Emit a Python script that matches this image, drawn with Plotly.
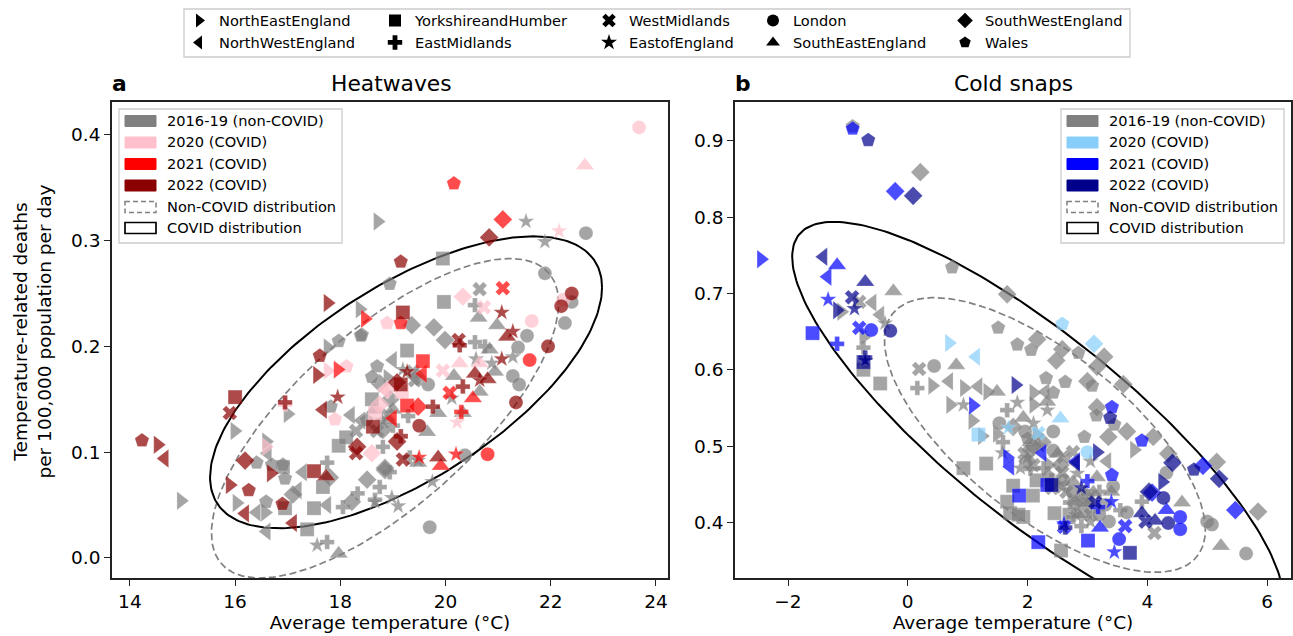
import numpy as np
import plotly.graph_objects as go

W, H = 1293, 636
FONT = "DejaVu Sans"

regions = ["NE", "NW", "YH", "WM", "EM", "EE", "LN", "SE", "SW", "WA"]
symbols = {"NE": "triangle-right", "NW": "triangle-left", "YH": "square", "WM": "x", "EM": "cross",
           "EE": "star", "LN": "circle", "SE": "triangle-up", "SW": "diamond", "WA": "pentagon"}
sizes = {"NE": 16, "NW": 16, "YH": 14, "WM": 13, "EM": 12, "EE": 12.5, "LN": 14, "SE": 16, "SW": 14.5, "WA": 15}

year_labels_heat = ["2016-19 (non-COVID)", "2020 (COVID)", "2021 (COVID)", "2022 (COVID)"]
heat_colours = ["#808080", "#ffc0cb", "#ff0000", "#8b0000"]
cold_colours = ["#808080", "#87cefa", "#0000ff", "#00008b"]

# ---- Heatwaves: (average temperature, deaths per 100,000 per day)
heat_base = {
 "NE": [(18.71,.318),(15.99,.12),(14.97,.054),(16.59,.11),(16.03,.052),(17.0,.136),(17.76,.199),(18.37,.235),(16.57,.043),(18.9,.17)],
 "NW": [(16.6,.025),(17.29,.081),(17.75,.05),(17.19,.064),(16.41,.043),(16.62,.099),(19.0,.187),(18.2,.135),(18.4,.13)],
 "YH": [(17.37,.027),(17.5,.047),(16.95,.047),(17.67,.067),(17.97,.106),(18.11,.114),(18.6,.15),(19.27,.196),(19.97,.242),(19.95,.283),(16.91,.086)],
 "WM": [(20.65,.254),(19.42,.168),(19.38,.176),(18.3,.12),(18.9,.135),(18.7,.12)],
 "EM": [(17.75,.015),(17.75,.09),(18.05,.048),(18.33,.061),(18.75,.067),(18.66,.055),(18.81,.105),(20.56,.204),(20.75,.2),(20.56,.239),(19.32,.095),(18.94,.081),(19.29,.134),(19.0,.125)],
 "EE": [(21.53,.318),(21.89,.299),(17.56,.012),(19.75,.072),(19.1,.049),(18.98,.057),(20.58,.188),(20.88,.184),(21.28,.19),(20.12,.151),(19.48,.092),(19.19,.178),(18.66,.053),(18.8,.13)],
 "LN": [(22.67,.307),(21.89,.269),(22.4,.242),(22.27,.222),(21.55,.21),(21.38,.199),(21.28,.172),(21.4,.164),(19.67,.164),(20.37,.097),(19.7,.029)],
 "SE": [(17.97,.004),(20.16,.172),(20.63,.227),(20.98,.22),(20.84,.197),(20.94,.176),(20.65,.157),(20.33,.137),(19.86,.137),(19.65,.119),(19.48,.09),(18.9,.13),(18.65,.14),(19.0,.14)],
 "SW": [(19.36,.22),(19.78,.218),(19.99,.206),(18.51,.074),(18.22,.053),(17.8,.076),(17.1,.06),(18.85,.083),(18.81,.121),(19.46,.171),(18.85,.085),(18.95,.15),(18.75,.165)],
 "WA": [(18.94,.259),(18.41,.211),(17.97,.205),(18.39,.21),(18.7,.181),(18.6,.171),(17.82,.143),(16.41,.09),(16.7,.088),(16.91,.088),(16.95,.075),(16.59,.053),(18.5,.13)],
}
heat_2020 = {
 "NE": [(17.76,.177),(16.59,.105)],
 "NW": [(18.85,.159)],
 "YH": [(18.66,.137),(19.17,.157)],
 "WM": [(20.73,.237),(19.95,.177)],
 "EM": [(16.95,.145)],
 "EE": [(22.16,.309),(20.22,.128)],
 "LN": [(23.68,.407),(21.64,.224),(22.24,.244)],
 "SE": [(22.65,.371),(20.27,.184),(20.65,.184)],
 "SW": [(20.33,.247),(18.75,.145),(18.6,.099),(18.89,.159)],
 "WA": [(18.89,.222),(17.9,.131),(18.12,.181)],
}
heat_2021 = {
 "NE": [(18.47,.226),(17.95,.178)],
 "NW": [(19.0,.132),(19.57,.174)],
 "YH": [(19.57,.186),(19.27,.144)],
 "WM": [(21.09,.255),(20.08,.156)],
 "EM": [(20.3,.138)],
 "EE": [(20.2,.098),(19.5,.095)],
 "LN": [(20.8,.098),(21.6,.187)],
 "SE": [(19.91,.087),(20.52,.151)],
 "SW": [(21.09,.32),(19.48,.143)],
 "WA": [(20.16,.354),(19.15,.222)],
}
heat_2022 = {
 "NE": [(14.53,.107),(15.9,.069),(17.56,.173),(16.68,.08),(17.76,.241)],
 "NW": [(14.66,.094),(16.19,.042),(17.1,.033),(17.67,.14)],
 "YH": [(16.0,.152),(17.5,.082),(19.19,.232),(18.62,.124),(19.15,.164)],
 "WM": [(15.9,.137),(18.3,.099),(19.19,.093),(20.25,.206)],
 "EM": [(16.95,.147),(19.15,.115),(20.33,.162),(19.76,.143),(20.27,.201)],
 "EE": [(17.95,.152),(21.07,.232),(21.07,.188),(21.28,.214),(19.27,.176),(20.65,.168)],
 "LN": [(22.4,.25),(22.2,.238),(21.34,.147),(21.95,.2),(19.5,.125)],
 "SE": [(21.17,.209),(20.56,.174),(20.8,.169),(19.86,.095),(17.73,.077)],
 "SW": [(20.83,.303),(16.19,.092),(18.32,.105),(19.08,.11),(19.08,.166)],
 "WA": [(14.23,.111),(19.15,.28),(16.26,.064),(16.9,.051),(17.61,.191)],
}

# ---- Cold snaps
cold_base = {
 "NE": [(-1.11,.676),(-.74,.643),(.41,.579),(.94,.576),(1.33,.571),(.71,.554),(1.08,.533),(1.24,.513),(1.49,.516),(2.1,.57),(2.1,.554),(3.78,.495),(2.15,.515),(2.35,.475)],
 "NW": [(-.59,.688),(-.46,.672),(.69,.585),(1.18,.578),(2.3,.571),(3.33,.48)],
 "YH": [(-.74,.6),(-.46,.582),(.93,.471),(1.31,.477),(1.76,.448),(1.66,.427),(1.71,.412),(2.09,.435),(1.93,.407),(2.45,.412),(2.96,.414),(2.56,.363),(2.7,.41),(3.0,.43),(2.4,.45),(2.15,.455),(1.85,.41)],
 "WM": [(-.81,.689),(.19,.601),(4.12,.386),(2.58,.465),(2.41,.445),(2.93,.436),(2.6,.486),(2.58,.447),(2.76,.492),(1.95,.49),(2.1,.475),(2.65,.44),(3.0,.43),(3.05,.41)],
 "EM": [(-.74,.629),(.16,.576),(1.66,.547),(1.59,.505),(2.27,.471),(2.71,.426),(2.76,.407),(3.55,.416),(3.91,.427),(2.05,.47),(2.4,.455),(2.85,.43),(2.9,.395),(3.2,.44)],
 "EE": [(-.38,.661),(.93,.554),(1.83,.557),(1.58,.491),(2.33,.547),(1.88,.471),(2.83,.464),(3.05,.48),(3.05,.401),(2.0,.485),(2.2,.5),(2.5,.45),(2.95,.44),(2.8,.41),(2.1,.53)],
 "LN": [(.44,.605),(1.53,.53),(1.96,.519),(2.43,.519),(2.43,.494),(3.43,.447),(3.36,.401),(3.3,.423),(3.66,.413),(5.0,.401),(5.08,.397),(5.65,.359),(4.32,.465),(2.75,.44),(2.6,.455),(3.2,.41)],
 "SE": [(-.24,.703),(.81,.606),(1.49,.571),(2.33,.558),(1.93,.537),(3.16,.459),(2.76,.453),(3.1,.439),(4.58,.426),(5.23,.369),(2.05,.505),(2.5,.49),(3.0,.425),(3.4,.44),(2.85,.41)],
 "SW": [(.21,.859),(1.66,.699),(2.16,.64),(2.58,.627),(2.48,.612),(3.28,.617),(3.16,.604),(3.0,.585),(3.6,.581),(3.16,.551),(3.66,.519),(3.35,.512),(4.1,.512),(4.35,.49),(5.16,.479),(5.85,.414),(2.05,.495),(1.76,.525),(2.0,.48),(2.25,.505),(2.8,.425),(2.55,.475),(2.1,.5)],
 "WA": [(-.92,.919),(.74,.734),(1.51,.655),(1.83,.633),(2.06,.626),(2.85,.622),(2.31,.589),(2.63,.584),(3.08,.579),(2.43,.57),(3.15,.54),(3.45,.528),(2.95,.512),(2.35,.46),(2.0,.51)],
}
cold_2020 = {
 "NE": [(.69,.635)], "NW": [(1.14,.617)], "YH": [(1.18,.515)], "WM": [(2.18,.517)], "EM": [],
 "EE": [(1.68,.524)], "LN": [(3.0,.492)], "SE": [(2.55,.536)], "SW": [(3.11,.634)], "WA": [(2.58,.66)],
}
cold_2021 = {
 "NE": [(-2.45,.745),(1.09,.553),(1.66,.485)],
 "NW": [(-1.34,.722),(1.71,.473),(2.25,.491),(2.81,.48)],
 "YH": [(-1.59,.648),(1.86,.435),(2.18,.374),(3.01,.376),(2.33,.449)],
 "WM": [(-.81,.655),(3.63,.395),(2.61,.394)],
 "EM": [(-1.18,.634),(3.0,.454),(3.18,.42)],
 "EE": [(-1.33,.692),(3.45,.361),(3.4,.427),(2.61,.398)],
 "LN": [(-.61,.652),(3.53,.378),(4.55,.407),(4.55,.391)],
 "SE": [(-1.18,.737),(3.21,.393),(4.32,.416)],
 "SW": [(-.21,.834),(4.93,.474),(5.47,.416),(4.08,.439)],
 "WA": [(-.92,.916),(3.41,.551),(3.91,.507),(3.41,.462)],
}
cold_2022 = {
 "NE": [(-1.18,.678),(1.8,.58),(3.16,.492),(4.25,.453)],
 "NW": [(-1.41,.748),(2.81,.478)],
 "YH": [(-.74,.61),(3.71,.36),(2.4,.449)],
 "WM": [(-.93,.695),(3.97,.401),(3.13,.426)],
 "EM": [(-.71,.616),(2.63,.393)],
 "EE": [(-.89,.68),(-.71,.612),(2.9,.445)],
 "LN": [(-.29,.651),(4.35,.399),(4.27,.432)],
 "SE": [(-.71,.715),(4.13,.402),(3.91,.412)],
 "SW": [(.09,.828),(4.42,.478),(5.2,.457),(4.03,.44)],
 "WA": [(-.66,.901),(3.38,.537),(4.78,.469)],
}

# Distribution ellipses: centre x, centre y, half-extent x, half-extent y, correlation
heat_noncovid = (18.85, .132, 3.30, .151, .72)
heat_covid = (19.25, .166, 3.726, .138, .65)
cold_noncovid = (2.29, .5145, 2.68, .18, -.69)
cold_covid = (2.17, .524, 4.1, .27, -.83)

def px(x): return x / W
def py(y): return 1 - y / H

fig = go.Figure()

def ellipse(params, xa, ya, dash, colour, width):
    cx, cy, sx, sy, rho = params
    t = np.linspace(0, 2 * np.pi, 241)
    x = cx + sx * np.cos(t)
    y = cy + sy * np.cos(t - np.arccos(rho))
    fig.add_trace(go.Scatter(x=x, y=y, mode="lines", xaxis=xa, yaxis=ya, showlegend=False, hoverinfo="skip",
                             line=dict(color=colour, width=width, dash=dash)))

def points(group, colour, xa, ya):
    for r in regions:
        pts = group.get(r, [])
        if not pts:
            continue
        fig.add_trace(go.Scatter(
            x=[p[0] for p in pts], y=[p[1] for p in pts], mode="markers", xaxis=xa, yaxis=ya, showlegend=False,
            marker=dict(symbol=symbols[r], size=sizes[r], color=colour, opacity=0.7,
                        line=dict(color="rgba(255,255,255,0.22)", width=1))))

ellipse(heat_noncovid, "x", "y", "7px,3.5px", "#808080", 1.7)
ellipse(heat_covid, "x", "y", "solid", "#000000", 2)
ellipse(cold_noncovid, "x2", "y2", "7px,3.5px", "#808080", 1.7)
ellipse(cold_covid, "x2", "y2", "solid", "#000000", 2)
for g, c in zip([heat_base, heat_2020, heat_2021, heat_2022], heat_colours):
    points(g, c, "x", "y")
for g, c in zip([cold_base, cold_2020, cold_2021, cold_2022], cold_colours):
    points(g, c, "x2", "y2")

# top region legend: five one-column legends
columns = [("NE", "NW"), ("YH", "EM"), ("WM", "EE"), ("LN", "SE"), ("SW", "WA")]
labels = {"NE": "NorthEastEngland", "NW": "NorthWestEngland", "YH": "YorkshireandHumber", "EM": "EastMidlands",
          "WM": "WestMidlands", "EE": "EastofEngland", "LN": "London", "SE": "SouthEastEngland",
          "SW": "SouthWestEngland", "WA": "Wales"}
legend_sizes = {"NE": 15, "NW": 15, "YH": 12, "WM": 10.5, "EM": 11, "EE": 11, "LN": 13, "SE": 15, "SW": 13, "WA": 14}
col_text_x = [219, 415, 629, 793, 985]
layout_legends = {}
for i, col in enumerate(columns):
    name = "legend" if i == 0 else f"legend{i+1}"
    layout_legends[name] = dict(x=px(col_text_x[i] - 40), y=py(4.5), xanchor="left", yanchor="top",
                                bgcolor="rgba(0,0,0,0)", borderwidth=0, itemsizing="constant",
                                font=dict(family=FONT, size=14.6, color="black"), tracegroupgap=0, itemwidth=30)
    for k in col:
        fig.add_trace(go.Scatter(x=[None], y=[None], mode="markers", name=labels[k], legend=name, showlegend=True,
                                 marker=dict(symbol=symbols[k], size=legend_sizes[k], color="black")))

shapes, annotations = [], []

def legend_box(x0, x1, y0, y1):
    shapes.append(dict(type="rect", xref="paper", yref="paper", x0=px(x0), x1=px(x1), y0=py(y0), y1=py(y1),
                       fillcolor="rgba(255,255,255,0.8)", line=dict(color="#cccccc", width=1.3), layer="above"))

legend_box(184, 1130, 9, 57)

def patch_legend(box_x0, box_x1, year_labels, colours):
    legend_box(box_x0, box_x1, 109, 243)
    rows = [121, 142.5, 164, 185.5, 207, 228]
    names = year_labels + ["Non-COVID distribution", "COVID distribution"]
    sx0 = box_x0 + 6
    sx1 = sx0 + 31
    for i, (row, name) in enumerate(zip(rows, names)):
        if i < 4:
            line = dict(color=colours[i], width=1)
            fill = colours[i]
        elif i == 4:
            line = dict(color="#808080", width=1.5, dash="5px,3px")
            fill = "rgba(0,0,0,0)"
        else:
            line = dict(color="#000000", width=1.7)
            fill = "rgba(0,0,0,0)"
        shapes.append(dict(type="rect", xref="paper", yref="paper", x0=px(sx0), x1=px(sx1), y0=py(row - 5.5), y1=py(row + 5.5),
                           fillcolor=fill, line=line, layer="above"))
        annotations.append(dict(xref="paper", yref="paper", x=px(sx1 + 9), y=py(row - 0.8), text=name, showarrow=False,
                                xanchor="left", yanchor="middle", font=dict(family=FONT, size=14.6, color="black")))

patch_legend(119, 342, year_labels_heat, heat_colours)
patch_legend(1061, 1284, year_labels_heat, cold_colours)

def txt(x, y, s, size, anchor="center", bold=False, angle=0):
    annotations.append(dict(xref="paper", yref="paper", x=px(x), y=py(y), text=f"<b>{s}</b>" if bold else s, showarrow=False,
                            xanchor=anchor, yanchor="middle", textangle=angle,
                            font=dict(family=FONT, size=size, color="black")))

txt(110, 84, "a", 21.8, "left", True)
txt(391, 84, "Heatwaves", 21.8)
txt(733, 84, "b", 21.8, "left", True)
txt(1013, 84, "Cold snaps", 21.8)
txt(32, 331.5, "Temperature-related deaths<br>per 100,000 population per day", 18.5, angle=-90)

axis_common = dict(showgrid=False, zeroline=False, showline=True, mirror=True, linecolor="#222222", linewidth=1.6,
                   ticks="outside", ticklen=6, tickwidth=1.3, tickcolor="#222222",
                   tickfont=dict(family=FONT, size=18.5, color="black"))
x_title = dict(text="Average temperature (°C)", font=dict(family=FONT, size=18.5, color="black"), standoff=4)

fig.update_layout(
    width=W, height=H, autosize=False, margin=dict(l=0, r=0, t=0, b=0), paper_bgcolor="white", plot_bgcolor="white",
    font=dict(family=FONT), shapes=shapes, annotations=annotations,
    xaxis=dict(domain=[px(112), px(668)], range=[13.66, 24.23], tickvals=[14, 16, 18, 20, 22, 24], title=x_title, **axis_common),
    yaxis=dict(domain=[py(578), py(102)], range=[-0.019, 0.431], tickvals=[0, .1, .2, .3, .4], tickformat=".1f", **axis_common),
    xaxis2=dict(domain=[px(735), px(1291)], range=[-2.885, 6.40], tickvals=[-2, 0, 2, 4, 6], title=x_title, anchor="y2", **axis_common),
    yaxis2=dict(domain=[py(578), py(102)], range=[0.327, 0.951], tickvals=[.4, .5, .6, .7, .8, .9], tickformat=".1f", anchor="x2", **axis_common),
    **layout_legends,
)

fig.write_html("out.html", post_script="document.body.style.margin='0';", config={"displayModeBar": False})
